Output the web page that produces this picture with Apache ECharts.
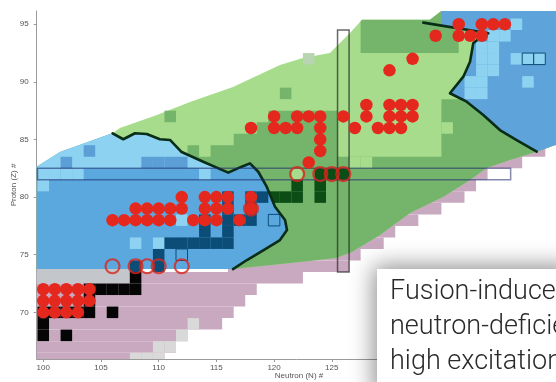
<!DOCTYPE html>
<html>
<head>
<meta charset="utf-8">
<script src="https://cdn.jsdelivr.net/npm/echarts@6/dist/echarts.min.js"></script>
<style>
html,body{margin:0;padding:0;background:#fff;}
#chart{width:556px;height:382px;}
</style>
</head>
<body>
<div id="chart"></div>
<script>
// ---- axis ticks ----
const nTicks = [100, 105, 110, 115, 120, 125, 130, 135, 140];
const zTicks = [70, 75, 80, 85, 90, 95];

// ---- outline of the known region (N, Z) ----
const protonSideEdge = [[99.43,82.64],[101.45,83.92],[106.04,85.57],[106.65,86.0],[109.85,87.13],[112.71,88.26],[116.44,89.56],[120.51,91.47],[122.5,92.08],[124.84,92.51],[126.58,94.25],[127.62,95.38],[133.51,95.38],[134.55,96.2],[144.6,96.2]];
// neutron-rich side, row by row: [Z, first N drawn, last nuclide N]
const neutronSideRows = [[66,99.43,110],[67,99.43,111],[68,99.43,112],[69,99.43,115],[70,99.43,116],[71,99.43,117],[72,99.43,118],[73,99.43,122],
  [74,116,126],[75,116,127],[76,116,129],[77,116,130],[78,116,132],[79,116,134],[80,128,136],[81,128,137],[82,128,138],[83,136,141],[84,136,143],[85,136,145]];

// ---- region boundaries (N, Z) ----
const lowerBoundary = [[106.01,85.54],[106.93,85.02],[107.95,85.54],[108.96,85.48],[110.11,85.02],[110.98,84.96],[111.99,83.91],[113.86,83.07],[116.03,82.12],[117.19,82.64],[117.91,82.93],[118.63,82.2],[119.36,80.9],[120.08,79.17],[120.95,78.01],[121.12,77.14],[120.51,76.27],[119.38,75.58],[117.65,74.54],[116.44,73.75]];
const upperBoundary = [[132.93,95.14],[138.56,94.22],[138.13,94.07],[137.26,93.35],[136.98,91.75],[136.4,90.45],[135.24,89.01],[136.69,88.28],[138.13,87.13],[139.57,85.82],[141.02,84.95],[142.76,83.94]];
const greenLowerEdge = [[116.44,73.75],[122.24,74.37],[125.36,74.72],[126.75,75.23],[129.18,76.71],[131.78,78.62],[134.64,80.01],[136.98,81.48],[138.42,82.53],[140.44,83.22],[142.76,83.94]];
const greenStep = [[110,73.75],[110,83.5],[112.5,83.5],[112.5,84.5],[113.5,84.5],[113.5,83.5],[114.5,83.5],[114.5,84.5],[116.5,84.5],[116.5,85.5],[118.5,85.5],[118.5,86.5],[119.5,86.5],[119.5,87.5],[125.5,87.5],[125.5,83.5],[134.5,83.5],[134.5,88.5],[144.6,88.5],[144.6,84.6]];
const greenTopStrip = [[127.5,92.5],[127.5,95.25],[127.62,95.38],[133.51,95.38],[134.55,96.2],[136,96.2],[136,92.5]];
const blueBottomZ = 73.75;

// ---- individual nuclides [N, Z] ----
const grayRun = [73, 99.43, 107.5];                       // [Z, from N, to N]
const lightGrayCells = [[108,66],[109,66],[110,66],[110,67],[111,67],[112,68],[113,69]];
const blackCells = [[108,73],[104,72],[105,72],[106,72],[107,72],[108,72],[104,71],[100,70],[101,70],[102,70],[103,70],[104,70],[106,70],[100,69],[100,68],[102,68]];
const navyCells = [[108,74],[110,74],[110,75],[111,76],[112,76],[113,76],[114,76],[115,76],[116,76],[114,77],[116,77],[114,78],[116,78],[117,78],[118,78],[116,79],[118,79],[116,80],[118,80],[119,80]];
const paleBlueCells = [[100,82],[101,82],[102,82],[103,82],[100,81],[108,76],[110,76],[112,78],[114,82]];
const midBlueCells = [[102,83],[104,84],[109,83],[110,83],[111,83],[112,83]];
const framedCells = [[112,75],[120,78]];
const darkGreenCells = [[124,82],[125,82],[126,82],[122,81],[124,81],[120,80],[121,80],[122,80],[124,80]];
const paleGreenCells = [[122,82],[127,83],[128,83],[135,86]];
const midGreenCells = [[111,87],[121,89]];
const greyGreenCells = [[123,92]];
const upperPaleBlueCells = [[141,95],[139,94],[140,94],[138,93],[139,93],[138,92],[139,92],[141,92],[138,91],[139,91],[137,90],[138,90],[142,90],[137,89],[138,89]];
const upperFramedCells = [[142,92],[143,92]];

// ---- shell closures ----
const frameZ82 = [99.5, 140.5, 81.5, 82.5];   // N from, N to, Z from, Z to
const frameN126 = [125.5, 126.5, 73.5, 94.5];

// ---- measured nuclei ----
const dotsUpper = [[136,95],[138,95],[139,95],[140,95],[134,94],[136,94],[137,94],[138,94],[132,92],[130,91],
  [128,88],[130,88],[131,88],[132,88],
  [120,87],[122,87],[123,87],[124,87],[126,87],[128,87],[130,87],[131,87],[132,87],
  [118,86],[120,86],[121,86],[122,86],[124,86],[127,86],[129,86],[130,86],[131,86],
  [124,85],[124,84],[123,83]];
const dotsMiddle = [[112,80],[114,80],[115,80],[116,80],[118,80],
  [108,79],[109,79],[110,79],[111,79],[112,79],[114,79],[115,79],[116,79],[118,79],
  [106,78],[107,78],[108,78],[109,78],[110,78],[111,78],[113,78],[114,78],[115,78],[117,78]];
const dotsLower = [[100,72],[101,72],[102,72],[103,72],[104,72],[100,71],[101,71],[102,71],[103,71],[104,71],[100,70],[101,70],[102,70],[103,70]];
const ringed = [[106,74],[108,74],[109,74],[110,74],[112,74],[118,79],[122,82],[124,82],[125,82],[126,82]];

// ---- colours ----
const C = {
  pink: '#c9a9bf', grayBand: '#c3c7cc', lightGray: '#d9d9d9', black: '#050505',
  blue: '#5aa8de', paleBlue: '#8dd2f1', navy: '#0c4d78', midBlue: '#5b9fd6',
  green: '#a6dc8b', midGreen: '#74b56b', darkGreen: '#0b4d14', greyGreen: '#b9d4b0',
  upperBlue: '#5ea3d9', line: '#0a2d18', red: '#e5281e'
};

let zOrder = 1;
function area(points, fill) {
  return {type: 'custom', coordinateSystem: 'cartesian2d', clip: true, silent: true, z: zOrder++,
    data: [[points[0][0], points[0][1]]],
    renderItem: (p, api) => ({type: 'polygon', shape: {points: points.map(q => api.coord(q))}, style: {fill: fill}})};
}
function cells(list, fill, stroke) {
  return {type: 'custom', coordinateSystem: 'cartesian2d', clip: true, silent: true, z: zOrder++,
    data: list,
    renderItem: (p, api) => {
      const n = api.value(0), z = api.value(1);
      const a = api.coord([n - 0.5, z + 0.5]), b = api.coord([n + 0.5, z - 0.5]);
      return {type: 'rect', shape: {x: a[0], y: a[1], width: b[0] - a[0], height: b[1] - a[1]},
        style: {fill: fill, stroke: stroke || null, lineWidth: stroke ? 1 : 0}};
    }};
}
function rows(list, fill) {
  return {type: 'custom', coordinateSystem: 'cartesian2d', clip: true, silent: true, z: zOrder++,
    data: list,
    renderItem: (p, api) => {
      const z = api.value(0), n0 = api.value(1), n1 = api.value(2);
      const a = api.coord([n0, z + 0.5]), b = api.coord([n1 + 0.5, z - 0.5]);
      return {type: 'rect', shape: {x: a[0], y: a[1], width: b[0] - a[0], height: b[1] - a[1]}, style: {fill: fill}};
    }};
}
function frame(box, stroke, width) {
  return {type: 'custom', coordinateSystem: 'cartesian2d', clip: true, silent: true, z: zOrder++,
    data: [[box[0], box[2]]],
    renderItem: (p, api) => {
      const a = api.coord([box[0], box[3]]), b = api.coord([box[1], box[2]]);
      return {type: 'rect', shape: {x: a[0], y: a[1], width: b[0] - a[0], height: b[1] - a[1]},
        style: {fill: null, stroke: stroke, lineWidth: width}};
    }};
}
function boundary(points) {
  return {type: 'line', data: points, symbol: 'none', silent: true, z: zOrder++, clip: true,
    lineStyle: {color: C.line, width: 2.6, join: 'round', cap: 'round'}};
}
function dots(list) {
  return {type: 'scatter', data: list, symbol: 'circle', symbolSize: 12.5, silent: true, z: zOrder++,
    itemStyle: {color: C.red, opacity: 1}};
}

const series = [];
// nuclide chart background
series.push(rows(neutronSideRows, C.pink));
series.push(area([[grayRun[1], grayRun[0] - 0.5], [grayRun[2], grayRun[0] - 0.5], [grayRun[2], blueBottomZ], [grayRun[1], blueBottomZ]], C.grayBand));
series.push(cells(lightGrayCells, C.lightGray));
series.push(cells(blackCells, C.black));
// green region
series.push(area([[99.43, blueBottomZ]].concat(protonSideEdge, [[144.6, 84.6]], greenLowerEdge.slice().reverse()), C.green));
series.push(area(greenStep.concat(greenLowerEdge.slice().reverse(), [[110, blueBottomZ]]), C.midGreen));
series.push(area(greenTopStrip, C.midGreen));
series.push(cells(paleGreenCells, C.green));
series.push(cells(midGreenCells, C.midGreen));
series.push(cells(greyGreenCells, C.greyGreen));
series.push(cells(darkGreenCells, C.darkGreen));
// lower blue region
series.push(area([[99.43, blueBottomZ]].concat(protonSideEdge.slice(0, 3), lowerBoundary.slice(1)), C.blue));
series.push(area([[99.43, 82.5], [99.43, 82.64], [101.45, 83.92], [106.04, 85.57]].concat(lowerBoundary.slice(1, 8), [[115.16, 82.5]]), C.paleBlue));
series.push(cells(paleBlueCells, C.paleBlue));
series.push(cells(midBlueCells, C.midBlue));
series.push(cells(framedCells, C.blue, C.navy));
series.push(cells(navyCells, C.navy));
// upper blue region
series.push(area([[134.52, 96.2], [144.6, 96.2], [144.6, 84.6]].concat(upperBoundary.slice(1).reverse(), [[134.52, 94.88]]), C.upperBlue));
series.push(cells(upperPaleBlueCells, C.paleBlue));
series.push(cells(upperFramedCells, C.paleBlue, C.navy));
// boundaries and shell closures
series.push(boundary(lowerBoundary));
series.push(boundary(upperBoundary));
series.push(frame(frameZ82, 'rgba(30,40,110,0.55)', 1.5));
series.push(frame(frameN126, 'rgba(40,40,40,0.7)', 1.5));
// measured nuclei
series.push(dots(dotsUpper));
series.push(dots(dotsMiddle));
series.push(dots(dotsLower));
series.push({type: 'scatter', data: ringed, symbol: 'circle', symbolSize: 14, silent: true, z: zOrder++,
  itemStyle: {color: 'rgba(0,0,0,0)', borderColor: '#d9261d', borderWidth: 2.2}});

const axisText = {fontFamily: 'Liberation Sans', fontSize: 8, color: '#555'};
const chart = echarts.init(document.getElementById('chart'), null, {renderer: 'canvas'});
chart.setOption({
  animation: false,
  backgroundColor: '#fff',
  grid: {left: 36.7, right: 0, top: 11, bottom: 23, containLabel: false, outerBoundsMode: 'none'},
  xAxis: {type: 'value', min: 99.43, max: 144.43,
    axisLine: {show: true, onZero: false, lineStyle: {color: '#9a9a9a', width: 1}},
    axisTick: {show: true, length: 3, customValues: nTicks, lineStyle: {color: '#9a9a9a'}},
    axisLabel: Object.assign({customValues: nTicks, margin: 5}, axisText),
    splitLine: {show: false}},
  yAxis: {type: 'value', min: 65.95, max: 96.15,
    axisLine: {show: true, onZero: false, lineStyle: {color: '#9a9a9a', width: 1}},
    axisTick: {show: true, length: 3, customValues: zTicks, lineStyle: {color: '#9a9a9a'}},
    axisLabel: Object.assign({customValues: zTicks, margin: 8}, axisText),
    splitLine: {show: false}},
  graphic: [
    {type: 'text', x: 299, y: 376, z: 50, style: {text: 'Neutron (N) #', font: '8px "Liberation Sans"', fill: '#555', align: 'center', verticalAlign: 'middle'}},
    {type: 'text', x: 13.5, y: 185, rotation: Math.PI / 2, z: 50, style: {text: 'Proton (Z) #', font: '8px "Liberation Sans"', fill: '#555', align: 'center', verticalAlign: 'middle'}},
    {type: 'rect', x: 377, y: 269, z: 60, shape: {width: 200, height: 130},
      style: {fill: '#fff', shadowBlur: 22, shadowColor: 'rgba(0,0,0,0.45)', shadowOffsetX: -3, shadowOffsetY: -3}},
    {type: 'text', x: 390, y: 292, z: 61, style: {text: 'Fusion-induced', font: '300 27px Roboto', fill: '#2a2a2a', verticalAlign: 'middle'}},
    {type: 'text', x: 390, y: 327, z: 61, style: {text: 'neutron-deficient', font: '300 27px Roboto', fill: '#2a2a2a', verticalAlign: 'middle'}},
    {type: 'text', x: 390, y: 362, z: 61, style: {text: 'high excitation energy', font: '300 27px Roboto', fill: '#2a2a2a', verticalAlign: 'middle'}}
  ],
  series: series
});
</script>
</body>
</html>
